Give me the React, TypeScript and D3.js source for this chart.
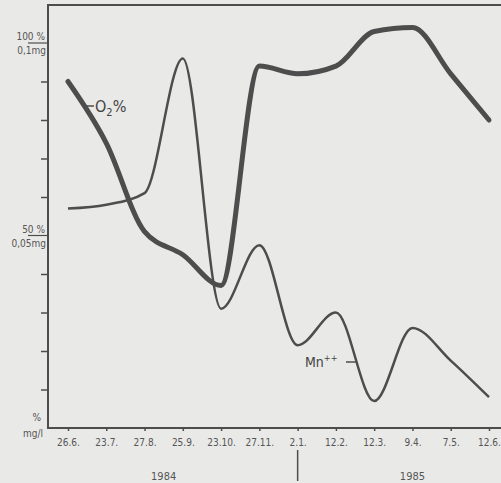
import React, { useEffect, useRef } from 'react';
import * as d3 from 'd3';

const dates = ['26.6.', '23.7.', '27.8.', '25.9.', '23.10.', '27.11.', '2.1.', '12.2.', '12.3.', '9.4.', '7.5.', '12.6.'];
const o2Percent = [90, 74, 51, 45, 37, 94, 92, 94, 103, 104, 92, 80];
const mnPercent = [57, 58, 61, 96, 31, 47.5, 21.5, 30, 7, 26, 17.5, 8];
const yTicks = [10, 20, 30, 40, 50, 60, 70, 80, 90, 100];
const years = [
  { label: '1984', from: '26.6.', to: '27.11.' },
  { label: '1985', from: '12.2.', to: '12.6.' },
];

const W = 501;
const H = 483;
const INK = '#4d4d4d';

export default function App() {
  const svgRef = useRef<SVGSVGElement | null>(null);

  useEffect(() => {
    if (!svgRef.current) return;
    const svg = d3.select(svgRef.current);
    svg.selectAll('*').remove();

    const left = 48;
    const top = 5;
    const bottom = 428;
    const font = "'DejaVu Sans Condensed', 'DejaVu Sans', sans-serif";

    const x = d3.scalePoint<string>().domain(dates).range([68, 489]);
    const y = d3.scaleLinear().domain([0, 100]).range([bottom, 43]);

    svg.append('rect').attr('width', W).attr('height', H).attr('fill', '#e9e9e7');

    // frame: top border, y axis, x axis
    svg.append('path')
      .attr('d', `M${W},${top}H${left}V${bottom}H${W}`)
      .attr('fill', 'none')
      .attr('stroke', INK)
      .attr('stroke-width', 2);

    // y ticks
    svg.append('g')
      .attr('transform', `translate(${left},0)`)
      .call(d3.axisLeft(y).tickValues(yTicks.filter(t => t !== 50 && t !== 100)).tickSize(7).tickFormat(() => ''))
      .call(g => g.select('.domain').remove())
      .call(g => g.selectAll('line').attr('stroke', INK).attr('stroke-width', 1.5));

    // fraction-style labels at 100 % and 50 %
    const fracs = [
      { v: 100, top: '100 %', bot: '0,1mg', x0: 28 },
      { v: 50, top: '50 %', bot: '0,05mg', x0: 28 },
    ];
    fracs.forEach(f => {
      const yy = y(f.v);
      svg.append('line').attr('x1', f.x0).attr('x2', left).attr('y1', yy).attr('y2', yy)
        .attr('stroke', INK).attr('stroke-width', 1.2);
      svg.append('text').attr('x', 45).attr('y', yy - 3).attr('text-anchor', 'end')
        .attr('font-family', font).attr('font-size', 10).attr('fill', '#555').text(f.top);
      svg.append('text').attr('x', 46).attr('y', yy + 11).attr('text-anchor', 'end')
        .attr('font-family', font).attr('font-size', 10).attr('fill', '#555').text(f.bot);
    });
    svg.append('text').attr('x', 41).attr('y', 421).attr('text-anchor', 'end')
      .attr('font-family', font).attr('font-size', 10).attr('fill', '#555').text('%');
    svg.append('text').attr('x', 43).attr('y', 437).attr('text-anchor', 'end')
      .attr('font-family', font).attr('font-size', 10).attr('fill', '#555').text('mg/l');

    // x ticks
    svg.append('g')
      .attr('transform', `translate(0,${bottom})`)
      .call(d3.axisBottom(x).tickSize(3).tickPadding(8))
      .call(g => g.select('.domain').remove())
      .call(g => g.selectAll('line').attr('stroke', INK).attr('stroke-width', 1.5))
      .call(g => g.selectAll('text').attr('font-family', font).attr('font-size', 10).attr('fill', '#555'));

    // years
    years.forEach(yr => {
      const cx = ((x(yr.from) as number) + (x(yr.to) as number)) / 2;
      svg.append('text').attr('x', cx).attr('y', 480).attr('text-anchor', 'middle')
        .attr('font-family', font).attr('font-size', 11).attr('fill', '#555').text(yr.label);
    });
    const sepX = x('2.1.') as number;
    svg.append('line').attr('x1', sepX).attr('x2', sepX).attr('y1', 450).attr('y2', 481)
      .attr('stroke', INK).attr('stroke-width', 1.5);

    const line = d3.line<number>()
      .x((_, i) => x(dates[i]) as number)
      .y(d => y(d))
      .curve(d3.curveMonotoneX);

    svg.append('path').datum(mnPercent).attr('d', line)
      .attr('fill', 'none').attr('stroke', INK).attr('stroke-width', 2.5)
      .attr('stroke-linejoin', 'round');

    svg.append('path').datum(o2Percent).attr('d', line)
      .attr('fill', 'none').attr('stroke', INK).attr('stroke-width', 5)
      .attr('stroke-linejoin', 'round').attr('stroke-linecap', 'round');

    // series labels
    svg.append('line').attr('x1', 84).attr('x2', 94).attr('y1', 106).attr('y2', 106)
      .attr('stroke', INK).attr('stroke-width', 1.5);
    const o2 = svg.append('text').attr('x', 95).attr('y', 112)
      .attr('font-family', font).attr('font-size', 16).attr('fill', '#444');
    o2.append('tspan').text('O');
    o2.append('tspan').attr('font-size', 11).attr('dy', 4).text('2');
    o2.append('tspan').attr('dy', -4).text('%');

    const mn = svg.append('text').attr('x', 305).attr('y', 367)
      .attr('font-family', font).attr('font-size', 14).attr('fill', '#444');
    mn.append('tspan').text('Mn');
    mn.append('tspan').attr('font-size', 9).attr('dy', -6).text('++');
    svg.append('line').attr('x1', 346).attr('x2', 357).attr('y1', 362).attr('y2', 362)
      .attr('stroke', INK).attr('stroke-width', 1.5);
  }, []);

  return (
    <svg
      ref={svgRef}
      width={W}
      height={H}
      style={{ position: 'absolute', left: 0, top: 0, display: 'block' }}
    />
  );
}
